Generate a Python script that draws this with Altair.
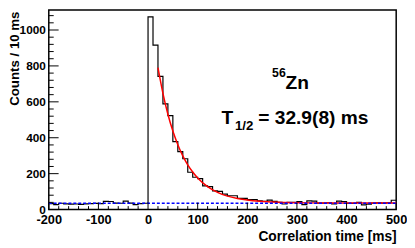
import altair as alt
import pandas as pd

# ---- data ----
bin_left = list(range(-200, 500, 10))
counts = [
    33, 28, 35, 32, 30, 31, 29, 32, 33, 34,
    33, 46, 45, 36, 35, 47, 36, 28, 33, 35,
    1073, 916, 742, 589, 523, 378, 323, 283, 208, 180,
    172, 132, 128, 104, 101, 86, 77, 77, 62, 62,
    55, 55, 49, 46, 53, 46, 40, 31, 40, 40,
    44, 28, 48, 47, 36, 36, 38, 32, 47, 45,
    35, 34, 40, 26, 30, 36, 37, 36, 38, 52,
]

fit_t = [20, 30, 40, 50, 60, 70, 80, 90, 100, 120, 140, 160, 180, 200, 225, 250, 300, 350, 400, 450, 500]
fit_c = [790, 647, 531, 437, 361, 299, 249, 209, 176, 128, 96, 75, 62, 53, 46, 42, 38, 37, 36, 36, 36]

bg_t = [-200, 500]
bg_c = [35, 35]

x_major = [-200, -100, 0, 100, 200, 300, 400, 500]
x_minor = [v for v in range(-200, 501, 20) if v % 100 != 0]
y_major = [0, 200, 400, 600, 800, 1000]
y_minor = [v for v in range(0, 1111, 40) if v % 200 != 0]

# ---- layout ----
W = 353.5
H = 203
FONT = "Liberation Sans"

hist_df = pd.DataFrame({"t": bin_left + [500], "c": counts + [counts[-1]]})
fit_df = pd.DataFrame({"t": fit_t, "c": fit_c})
bg_df = pd.DataFrame({"t": bg_t, "c": bg_c})

xscale = alt.Scale(domain=[-200, 500], nice=False, zero=False)
yscale = alt.Scale(domain=[0, 1111], nice=False, zero=False)

xaxis = alt.Axis(
    values=x_major, labelExpr="'' + datum.value", ticks=False, tickSize=0,
    domain=False, grid=False, labelOverlap=False, labelFlush=False,
    labelFont=FONT, labelFontWeight="bold", labelFontSize=13, labelColor="black",
    labelPadding=4,
    title="Correlation time [ms]", titleFont=FONT, titleFontWeight="bold",
    titleFontSize=14, titleColor="black", titleX=W, titleY=31.5,
    titleAlign="right", titleBaseline="alphabetic",
)
yaxis = alt.Axis(
    values=y_major, labelExpr="'' + datum.value", ticks=False, tickSize=0,
    domain=False, grid=False, labelOverlap=False, labelFlush=False,
    labelFont=FONT, labelFontWeight="bold", labelFontSize=12, labelColor="black",
    labelPadding=3.5,
    title="Counts / 10 ms", titleFont=FONT, titleFontWeight="bold",
    titleFontSize=13.5, titleColor="black", titleAngle=270, titleX=-30.5, titleY=1,
    titleAlign="right", titleBaseline="alphabetic",
)

hist = alt.Chart(hist_df).mark_line(
    interpolate="step-after", color="black", strokeWidth=1.2
).encode(
    x=alt.X("t:Q", scale=xscale, axis=xaxis),
    y=alt.Y("c:Q", scale=yscale, axis=yaxis),
)

fit = alt.Chart(fit_df).mark_line(
    interpolate="monotone", color="#ff0000", strokeWidth=1.5
).encode(
    x=alt.X("t:Q", scale=xscale),
    y=alt.Y("c:Q", scale=yscale),
)

bg = alt.Chart(bg_df).mark_line(
    color="#0000ff", strokeWidth=1.5, strokeDash=[3, 2]
).encode(
    x=alt.X("t:Q", scale=xscale),
    y=alt.Y("c:Q", scale=yscale),
)

def xticks(vals, length):
    return alt.Chart(pd.DataFrame({"t": vals})).mark_rule(
        color="black", strokeWidth=1
    ).encode(
        x=alt.X("t:Q", scale=xscale),
        y=alt.value(H), y2=alt.value(H - length),
    )

def yticks(vals, length):
    return alt.Chart(pd.DataFrame({"c": vals})).mark_rule(
        color="black", strokeWidth=1
    ).encode(
        y=alt.Y("c:Q", scale=yscale),
        x=alt.value(0), x2=alt.value(length),
    )

one = pd.DataFrame({"a": [0]})

def label(text, t, c, size):
    return alt.Chart(one).mark_text(
        text=text, font=FONT, fontWeight="bold", fontSize=size, color="black",
        align="left", baseline="alphabetic",
    ).encode(
        x=alt.X(datum=t, type="quantitative", scale=xscale),
        y=alt.Y(datum=c, type="quantitative", scale=yscale),
    )

texts = [
    label("56", 250, 739, 12.5),
    label("Zn", 277, 672, 19.5),
    label("T", 148, 476, 19.5),
    label("1/2", 175, 443, 13.5),
    label("= 32.9(8) ms", 222, 476, 19.5),
]

chart = alt.layer(
    hist, fit, bg,
    xticks(x_major, 7), xticks(x_minor, 3.5),
    yticks(y_major, 10), yticks(y_minor, 5),
    *texts,
).properties(
    width=W, height=H,
    autosize=alt.AutoSizeParams(type="none"),
    padding={"left": 41.5, "top": 0, "right": 11, "bottom": 37},
).configure_view(
    stroke="black", strokeWidth=1.5
)

chart.save("out.html", embed_options={"renderer": "svg", "actions": False})
